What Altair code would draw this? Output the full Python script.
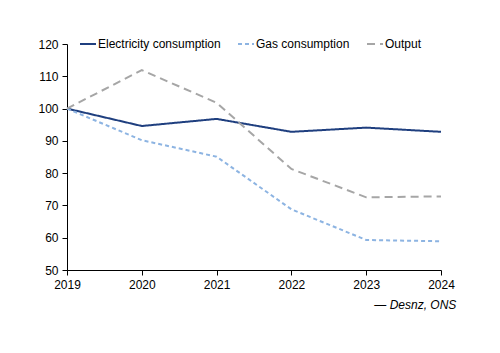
import altair as alt
import pandas as pd

years = [2019, 2020, 2021, 2022, 2023, 2024]
electricity = [100, 94.6, 96.8, 92.8, 94.1, 92.8]
gas = [100, 90.2, 85.1, 68.8, 59.3, 58.9]
output = [100, 111.9, 101.8, 81.3, 72.5, 72.8]

series_names = ["Electricity consumption", "Gas consumption", "Output"]
colors = ["#1F3F7F", "#8DB4E2", "#A6A6A6"]
dashes = [[1, 0], [4, 3], [8, 5]]

rows = []
for name, vals in zip(series_names, [electricity, gas, output]):
    for y, v in zip(years, vals):
        rows.append({"year": y, "value": v, "series": name})
df = pd.DataFrame(rows)

FONT = "Liberation Sans"

chart = alt.Chart(df).mark_line(strokeWidth=2).encode(
    x=alt.X("year:Q", scale=alt.Scale(domain=[2019, 2024], nice=False),
            axis=alt.Axis(values=years, format="d", title=None, grid=False,
                          domainColor="black", tickColor="black", tickSize=5,
                          labelColor="black", labelFontSize=12, labelFont=FONT,
                          labelPadding=4, labelFlush=False)),
    y=alt.Y("value:Q", scale=alt.Scale(domain=[50, 120], nice=False, zero=False),
            axis=alt.Axis(values=[50, 60, 70, 80, 90, 100, 110, 120], title=None, grid=False,
                          domainColor="black", tickColor="black", tickSize=5,
                          labelColor="black", labelFontSize=12, labelFont=FONT,
                          labelPadding=4)),
    color=alt.Color("series:N", scale=alt.Scale(domain=series_names, range=colors),
                    sort=series_names,
                    legend=alt.Legend(title=None, orient="none", direction="horizontal",
                                      legendX=12, legendY=-9, symbolType="stroke",
                                      symbolSize=256, symbolStrokeWidth=2,
                                      labelFont=FONT, labelFontSize=12, labelColor="black",
                                      labelOffset=1, columnPadding=13)),
    strokeDash=alt.StrokeDash("series:N", scale=alt.Scale(domain=series_names, range=dashes),
                              sort=series_names, legend=None),
).properties(
    width=374, height=226,
    padding={"left": 67, "top": 44, "right": 59, "bottom": 83},
    autosize=alt.AutoSizeParams(type="none"),
    title=alt.TitleParams("— Desnz, ONS", orient="bottom", anchor="end", fontStyle="italic",
                          fontWeight="normal", fontSize=12, font=FONT, color="black",
                          offset=10, dx=2),
).configure_view(stroke=None)

chart.save("out.html", embed_options={"renderer": "svg", "actions": False})
